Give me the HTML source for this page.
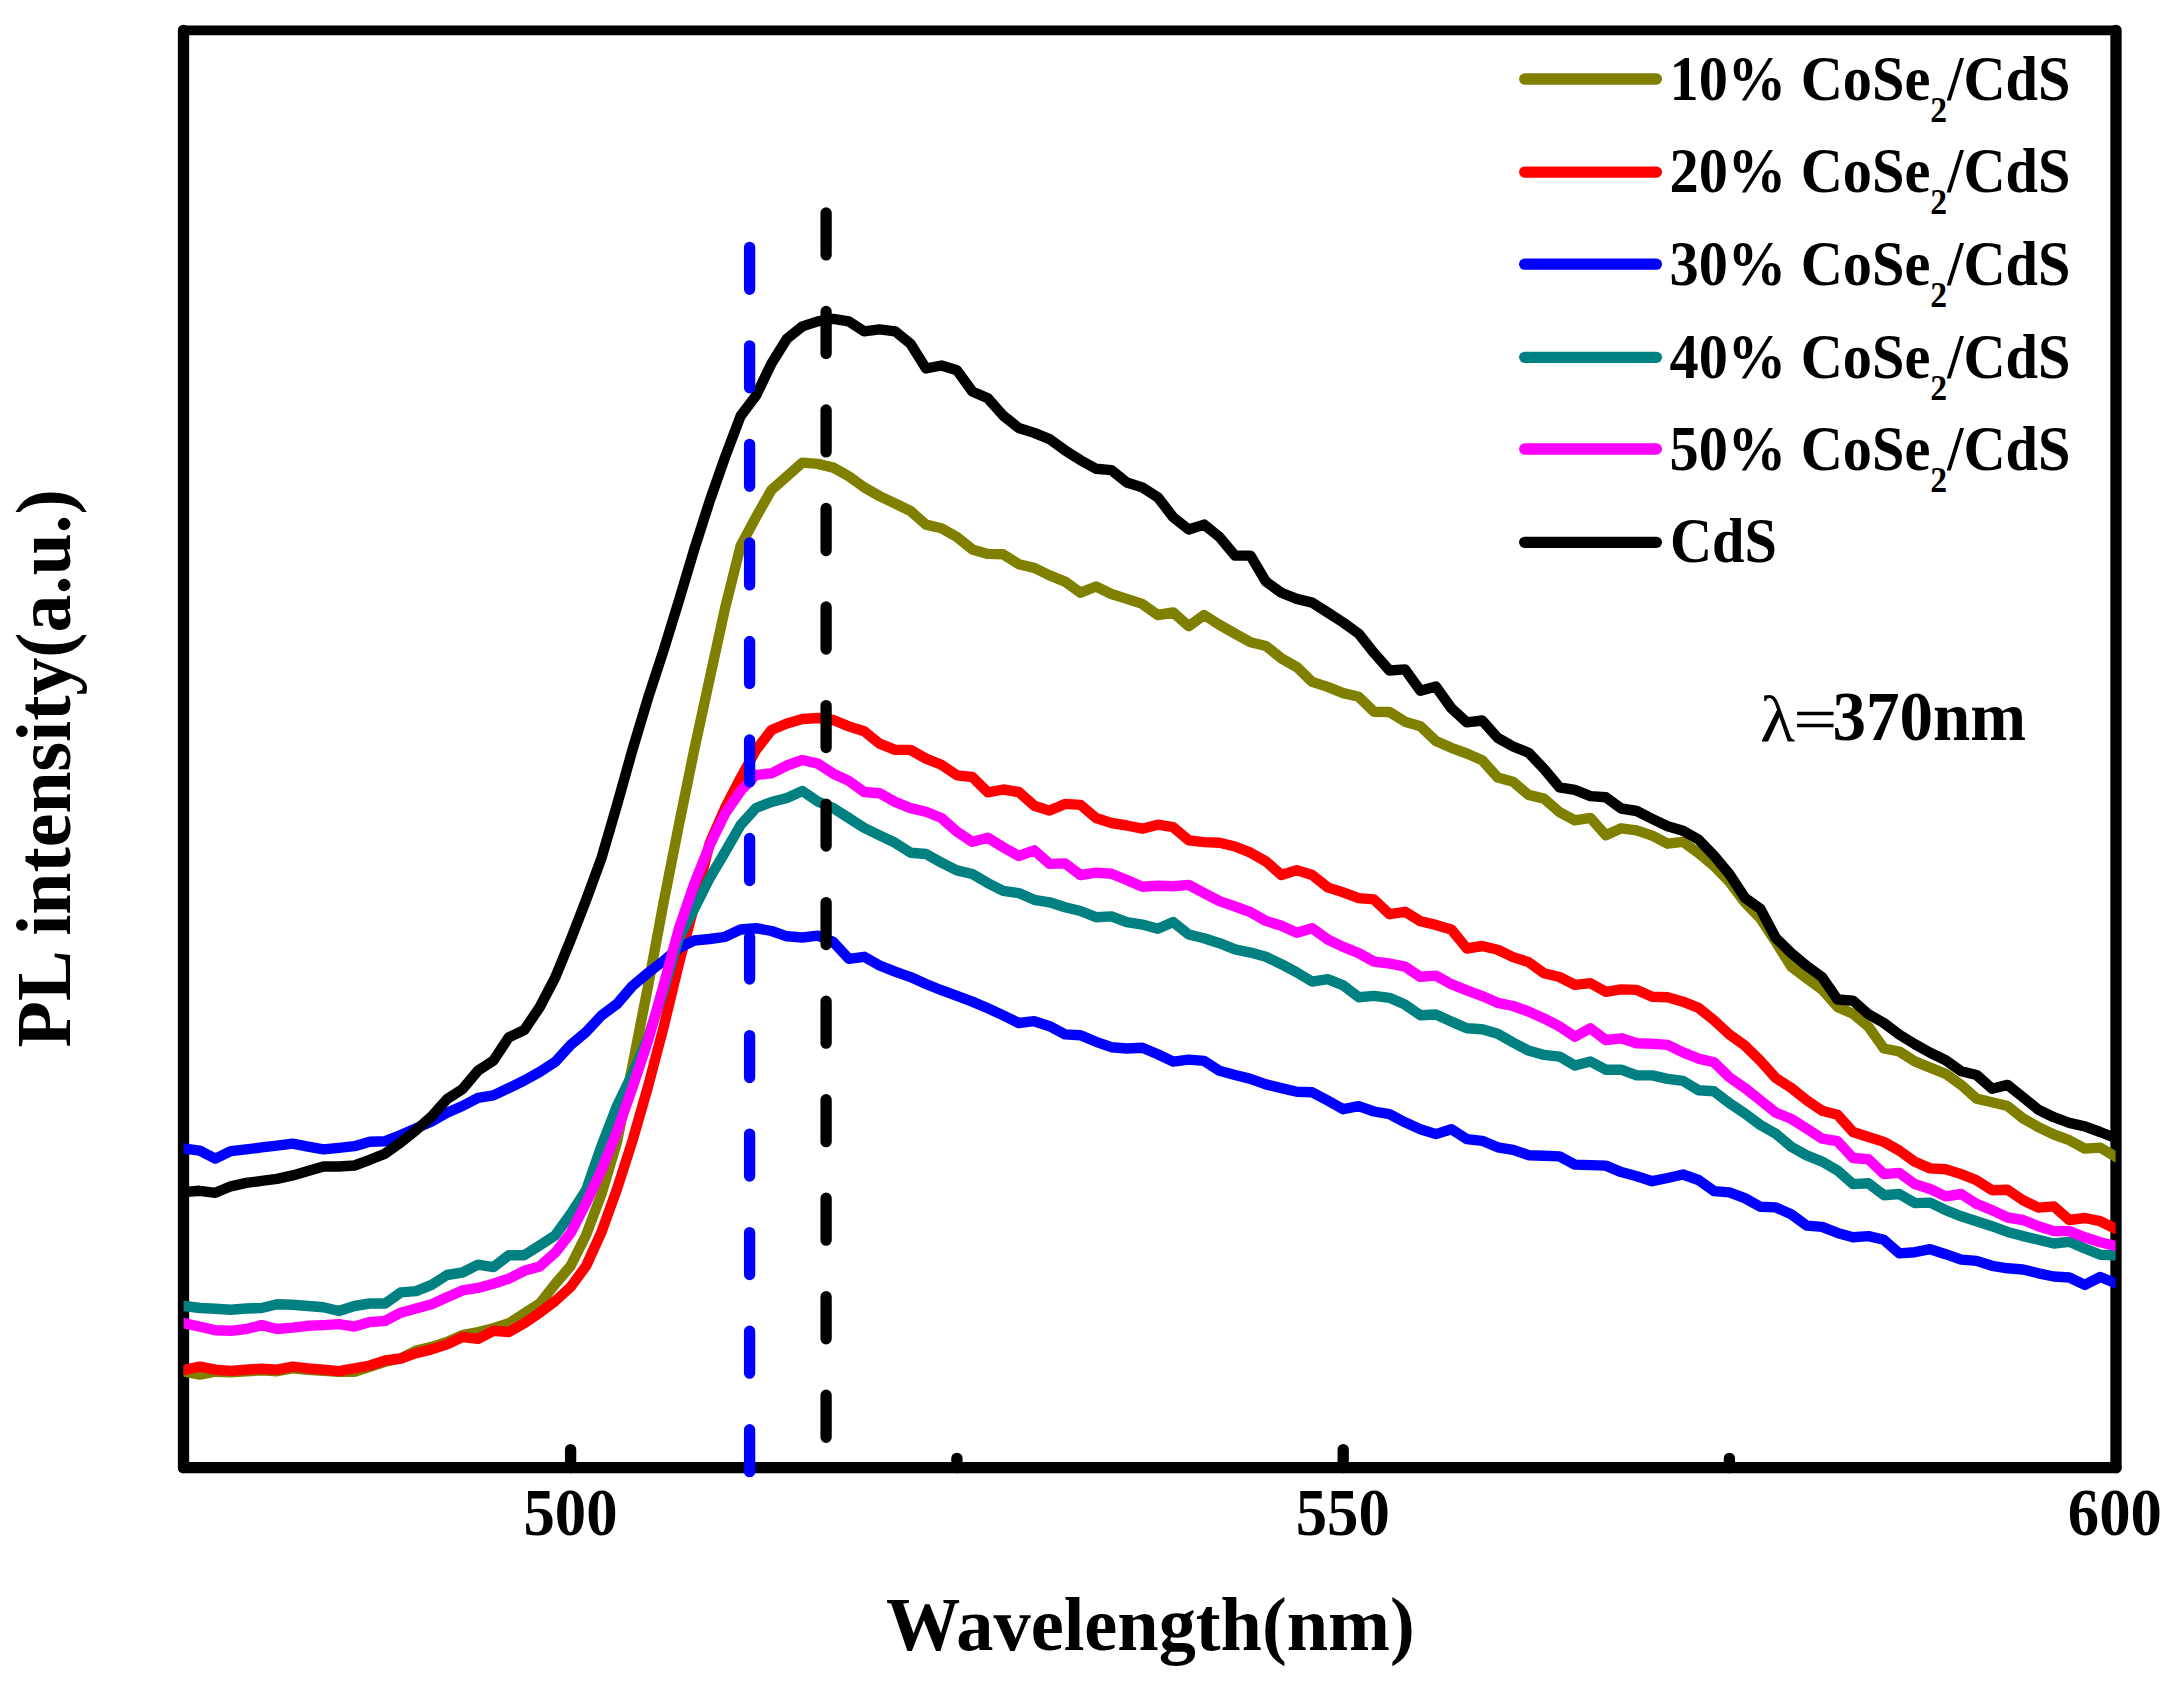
<!DOCTYPE html>
<html><head><meta charset="utf-8"><title>PL spectra</title>
<style>html,body{margin:0;padding:0;background:#fff}svg{display:block}text{font-family:"Liberation Serif","Times New Roman",serif;font-weight:bold;fill:#000}</style></head><body>
<svg width="2179" height="1695" viewBox="0 0 2179 1695">
<rect width="2179" height="1695" fill="#fff"/>
<defs><clipPath id="cc"><rect x="183.6" y="0" width="1932" height="1695"/></clipPath></defs>
<line x1="183.5" y1="30.3" x2="183.5" y2="1467.7" stroke="#000" stroke-width="11.3" stroke-linecap="round"/>
<line x1="2116.0" y1="30.3" x2="2116.0" y2="1467.7" stroke="#000" stroke-width="11.3" stroke-linecap="round"/>
<line x1="183.5" y1="30.3" x2="2116.0" y2="30.3" stroke="#000" stroke-width="9.8" stroke-linecap="round"/>
<line x1="183.5" y1="1467.7" x2="2116.0" y2="1467.7" stroke="#000" stroke-width="11.3" stroke-linecap="round"/>
<line x1="570.6" y1="1467.7" x2="570.6" y2="1449.6" stroke="#000" stroke-width="11.3" stroke-linecap="round"/>
<line x1="956.9" y1="1467.7" x2="956.9" y2="1458.3" stroke="#000" stroke-width="11.3" stroke-linecap="round"/>
<line x1="1343.2" y1="1467.7" x2="1343.2" y2="1449.6" stroke="#000" stroke-width="11.3" stroke-linecap="round"/>
<line x1="1729.4" y1="1467.7" x2="1729.4" y2="1458.3" stroke="#000" stroke-width="11.3" stroke-linecap="round"/>
<polyline points="178.4,1370.5 184.4,1371.7 199.8,1374.6 215.3,1371.7 230.8,1372.4 246.2,1371.2 261.6,1370.4 277.1,1371.2 292.6,1368.4 308.0,1369.7 323.4,1370.9 338.9,1371.7 354.4,1371.7 369.8,1366.7 385.2,1361.7 400.7,1358.5 416.1,1350.6 431.6,1346.9 447.0,1341.9 462.5,1335.0 478.0,1332.0 493.4,1328.3 508.9,1323.3 524.3,1313.4 539.8,1303.5 555.2,1284.0 570.6,1266.0 586.1,1235.0 601.5,1194.0 617.0,1142.0 632.4,1066.0 647.9,987.0 663.4,903.4 678.8,825.5 694.2,750.0 709.7,678.5 725.1,608.0 740.6,546.0 756.0,517.1 771.5,489.9 786.9,476.3 802.4,462.6 817.8,463.9 833.3,467.6 848.8,476.3 864.2,487.4 879.6,496.1 895.1,503.5 910.5,511.0 926.0,524.6 941.4,528.3 956.9,537.0 972.3,549.4 987.8,553.9 1003.2,554.3 1018.7,564.2 1034.2,567.9 1049.6,575.4 1065.0,581.6 1080.5,592.7 1096.0,586.5 1111.4,594.0 1126.8,598.9 1142.3,603.9 1157.8,615.0 1173.2,612.5 1188.7,626.2 1204.1,615.0 1219.5,624.9 1235.0,633.6 1250.5,642.3 1265.9,646.0 1281.4,658.4 1296.8,667.1 1312.2,681.9 1327.7,686.9 1343.2,693.1 1358.6,696.8 1374.0,711.8 1389.5,712.0 1405.0,721.7 1420.4,726.2 1435.9,741.1 1451.3,747.8 1466.8,753.5 1482.2,760.2 1497.7,777.5 1513.1,781.7 1528.5,794.9 1544.0,798.6 1559.5,812.2 1574.9,820.4 1590.4,817.9 1605.8,835.2 1621.2,828.3 1636.7,830.3 1652.2,835.7 1667.6,843.7 1683.0,841.9 1698.5,853.1 1714.0,866.0 1729.4,882.0 1744.8,902.5 1760.3,918.5 1775.8,942.0 1791.2,966.5 1806.7,978.3 1822.1,989.5 1837.5,1006.9 1853.0,1013.8 1868.5,1026.7 1883.9,1048.5 1899.3,1051.5 1914.8,1061.4 1930.2,1067.6 1945.7,1073.8 1961.2,1084.9 1976.6,1098.6 1992.0,1102.3 2007.5,1106.0 2023.0,1118.4 2038.4,1127.1 2053.8,1134.5 2069.3,1140.2 2084.8,1148.6 2100.2,1147.6 2115.7,1156.8 2121.7,1160.4" fill="none" stroke="#808000" stroke-width="10.4" stroke-linejoin="round" stroke-linecap="butt" clip-path="url(#cc)"/>
<polyline points="178.4,1371.2 184.4,1369.9 199.8,1366.7 215.3,1369.7 230.8,1370.9 246.2,1369.7 261.6,1368.7 277.1,1369.7 292.6,1366.7 308.0,1368.4 323.4,1369.7 338.9,1371.2 354.4,1368.4 369.8,1365.5 385.2,1360.5 400.7,1358.5 416.1,1353.1 431.6,1349.4 447.0,1344.4 462.5,1337.0 478.0,1338.9 493.4,1330.8 508.9,1332.0 524.3,1323.3 539.8,1312.7 555.2,1301.0 570.6,1287.0 586.1,1266.0 601.5,1232.0 617.0,1189.0 632.4,1141.0 647.9,1087.0 663.4,1028.0 678.8,964.0 694.2,906.0 709.7,843.0 725.1,808.0 740.6,778.0 756.0,750.0 771.5,730.0 786.9,723.5 802.4,719.0 817.8,718.0 833.3,720.0 848.8,726.4 864.2,731.3 879.6,743.7 895.1,749.9 910.5,749.9 926.0,758.6 941.4,764.8 956.9,775.3 972.3,777.0 987.8,792.3 1003.2,789.5 1018.7,792.0 1034.2,805.7 1049.6,810.6 1065.0,803.9 1080.5,804.9 1096.0,818.0 1111.4,823.0 1126.8,825.5 1142.3,828.7 1157.8,824.7 1173.2,827.2 1188.7,840.3 1204.1,842.1 1219.5,842.8 1235.0,846.5 1250.5,852.7 1265.9,861.4 1281.4,875.0 1296.8,870.1 1312.2,875.0 1327.7,887.4 1343.2,892.4 1358.6,898.1 1374.0,899.4 1389.5,914.2 1405.0,911.8 1420.4,921.2 1435.9,924.9 1451.3,929.4 1466.8,948.5 1482.2,946.0 1497.7,949.7 1513.1,957.1 1528.5,962.1 1544.0,973.3 1559.5,977.0 1574.9,984.9 1590.4,983.2 1605.8,991.8 1621.2,989.4 1636.7,989.9 1652.2,996.8 1667.6,997.3 1683.0,1001.7 1698.5,1007.9 1714.0,1020.3 1729.4,1034.5 1744.8,1045.5 1760.3,1060.8 1775.8,1078.0 1791.2,1087.9 1806.7,1100.3 1822.1,1110.8 1837.5,1114.7 1853.0,1132.0 1868.5,1137.0 1883.9,1141.9 1899.3,1150.6 1914.8,1161.8 1930.2,1168.4 1945.7,1169.2 1961.2,1174.1 1976.6,1180.3 1992.0,1190.2 2007.5,1189.8 2023.0,1200.2 2038.4,1207.6 2053.8,1206.4 2069.3,1220.0 2084.8,1218.0 2100.2,1221.2 2115.7,1228.7 2121.7,1231.5" fill="none" stroke="#ff0000" stroke-width="10.4" stroke-linejoin="round" stroke-linecap="butt" clip-path="url(#cc)"/>
<polyline points="178.4,1147.9 184.4,1148.7 199.8,1150.6 215.3,1158.6 230.8,1151.1 246.2,1149.4 261.6,1147.4 277.1,1145.7 292.6,1143.7 308.0,1146.7 323.4,1149.4 338.9,1147.9 354.4,1146.2 369.8,1141.7 385.2,1141.2 400.7,1135.0 416.1,1128.3 431.6,1121.4 447.0,1112.7 462.5,1106.0 478.0,1097.9 493.4,1095.4 508.9,1088.0 524.3,1080.5 539.8,1071.9 555.2,1061.9 570.6,1045.0 586.1,1032.0 601.5,1015.5 617.0,1004.0 632.4,986.0 647.9,973.0 663.4,961.0 678.8,948.0 694.2,940.5 709.7,939.0 725.1,936.8 740.6,929.5 756.0,928.2 771.5,931.0 786.9,936.3 802.4,937.5 817.8,935.7 833.3,941.9 848.8,958.8 864.2,956.8 879.6,965.5 895.1,971.7 910.5,977.1 926.0,984.0 941.4,990.2 956.9,995.8 972.3,1001.6 987.8,1008.2 1003.2,1015.4 1018.7,1023.0 1034.2,1021.2 1049.6,1026.2 1065.0,1034.4 1080.5,1035.3 1096.0,1041.8 1111.4,1047.2 1126.8,1048.5 1142.3,1047.7 1157.8,1054.2 1173.2,1061.6 1188.7,1059.6 1204.1,1060.9 1219.5,1070.8 1235.0,1075.0 1250.5,1078.9 1265.9,1084.4 1281.4,1088.1 1296.8,1091.8 1312.2,1092.3 1327.7,1100.5 1343.2,1109.2 1358.6,1106.2 1374.0,1111.5 1389.5,1114.2 1405.0,1122.3 1420.4,1129.2 1435.9,1134.1 1451.3,1129.2 1466.8,1139.1 1482.2,1140.8 1497.7,1147.3 1513.1,1149.8 1528.5,1155.2 1544.0,1155.7 1559.5,1156.4 1574.9,1164.6 1590.4,1165.1 1605.8,1165.6 1621.2,1172.1 1636.7,1176.3 1652.2,1181.2 1667.6,1178.0 1683.0,1174.5 1698.5,1180.0 1714.0,1191.1 1729.4,1192.4 1744.8,1198.1 1760.3,1206.8 1775.8,1207.4 1791.2,1214.2 1806.7,1225.6 1822.1,1226.9 1837.5,1232.9 1853.0,1237.3 1868.5,1236.1 1883.9,1239.8 1899.3,1253.4 1914.8,1252.2 1930.2,1249.2 1945.7,1254.2 1961.2,1259.6 1976.6,1260.9 1992.0,1265.8 2007.5,1268.3 2023.0,1269.5 2038.4,1273.3 2053.8,1276.5 2069.3,1277.5 2084.8,1284.9 2100.2,1277.0 2115.7,1283.2 2121.7,1285.6" fill="none" stroke="#0000ff" stroke-width="10.4" stroke-linejoin="round" stroke-linecap="butt" clip-path="url(#cc)"/>
<polyline points="178.4,1305.2 184.4,1306.0 199.8,1308.0 215.3,1308.7 230.8,1309.7 246.2,1308.5 261.6,1308.0 277.1,1304.3 292.6,1304.8 308.0,1306.0 323.4,1307.2 338.9,1311.0 354.4,1306.0 369.8,1303.5 385.2,1303.5 400.7,1292.4 416.1,1291.1 431.6,1284.9 447.0,1275.0 462.5,1272.5 478.0,1264.6 493.4,1267.1 508.9,1255.2 524.3,1255.2 539.8,1245.3 555.2,1235.4 570.6,1214.0 586.1,1190.0 601.5,1146.0 617.0,1106.0 632.4,1074.0 647.9,1038.0 663.4,991.0 678.8,938.0 694.2,909.0 709.7,878.0 725.1,852.0 740.6,825.0 756.0,808.0 771.5,802.0 786.9,798.0 802.4,791.0 817.8,801.5 833.3,808.1 848.8,818.0 864.2,827.9 879.6,835.4 895.1,842.8 910.5,852.7 926.0,854.0 941.4,862.6 956.9,870.4 972.3,874.0 987.8,883.1 1003.2,890.8 1018.7,893.1 1034.2,899.8 1049.6,902.3 1065.0,907.2 1080.5,911.0 1096.0,917.2 1111.4,916.4 1126.8,922.1 1142.3,924.6 1157.8,928.8 1173.2,922.1 1188.7,934.5 1204.1,938.2 1219.5,943.2 1235.0,949.4 1250.5,952.6 1265.9,956.8 1281.4,964.2 1296.8,972.4 1312.2,981.6 1327.7,979.1 1343.2,985.3 1358.6,997.2 1374.0,995.9 1389.5,997.8 1405.0,1004.6 1420.4,1015.2 1435.9,1014.5 1451.3,1021.4 1466.8,1028.3 1482.2,1029.3 1497.7,1033.8 1513.1,1042.5 1528.5,1050.6 1544.0,1054.9 1559.5,1056.6 1574.9,1065.5 1590.4,1061.5 1605.8,1069.7 1621.2,1069.7 1636.7,1075.4 1652.2,1075.4 1667.6,1078.9 1683.0,1080.9 1698.5,1090.3 1714.0,1091.3 1729.4,1103.2 1744.8,1113.3 1760.3,1125.0 1775.8,1133.7 1791.2,1146.7 1806.7,1155.4 1822.1,1161.6 1837.5,1170.4 1853.0,1184.1 1868.5,1183.3 1883.9,1195.2 1899.3,1194.0 1914.8,1203.1 1930.2,1202.6 1945.7,1210.1 1961.2,1216.3 1976.6,1221.2 1992.0,1226.2 2007.5,1231.9 2023.0,1236.1 2038.4,1239.8 2053.8,1243.5 2069.3,1241.8 2084.8,1248.5 2100.2,1254.7 2115.7,1255.2 2121.7,1255.4" fill="none" stroke="#008080" stroke-width="10.4" stroke-linejoin="round" stroke-linecap="butt" clip-path="url(#cc)"/>
<polyline points="178.4,1322.1 184.4,1323.3 199.8,1326.6 215.3,1330.3 230.8,1330.8 246.2,1329.0 261.6,1325.1 277.1,1329.0 292.6,1327.6 308.0,1325.8 323.4,1325.1 338.9,1324.1 354.4,1326.6 369.8,1322.1 385.2,1320.9 400.7,1312.7 416.1,1308.5 431.6,1304.3 447.0,1297.3 462.5,1290.4 478.0,1287.9 493.4,1283.7 508.9,1278.7 524.3,1270.8 539.8,1266.4 555.2,1252.7 570.6,1233.0 586.1,1203.0 601.5,1170.0 617.0,1131.5 632.4,1087.7 647.9,1041.0 663.4,986.0 678.8,929.0 694.2,884.0 709.7,845.3 725.1,813.5 740.6,791.0 756.0,775.0 771.5,773.3 786.9,765.5 802.4,760.0 817.8,763.6 833.3,773.7 848.8,780.9 864.2,792.0 879.6,793.3 895.1,801.9 910.5,808.1 926.0,811.8 941.4,818.0 956.9,831.7 972.3,841.8 987.8,837.7 1003.2,847.2 1018.7,856.0 1034.2,850.3 1049.6,863.9 1065.0,863.4 1080.5,875.0 1096.0,872.6 1111.4,873.8 1126.8,880.0 1142.3,886.7 1157.8,885.7 1173.2,886.2 1188.7,884.9 1204.1,893.1 1219.5,901.1 1235.0,906.5 1250.5,912.2 1265.9,920.9 1281.4,925.8 1296.8,932.8 1312.2,928.3 1327.7,939.5 1343.2,946.9 1358.6,953.1 1374.0,961.6 1389.5,963.5 1405.0,966.7 1420.4,976.8 1435.9,975.6 1451.3,984.2 1466.8,990.4 1482.2,996.1 1497.7,1002.8 1513.1,1006.0 1528.5,1011.5 1544.0,1018.4 1559.5,1026.4 1574.9,1036.8 1590.4,1028.3 1605.8,1040.0 1621.2,1038.3 1636.7,1043.2 1652.2,1043.7 1667.6,1044.9 1683.0,1052.4 1698.5,1058.6 1714.0,1062.3 1729.4,1077.2 1744.8,1087.9 1760.3,1100.3 1775.8,1112.6 1791.2,1118.8 1806.7,1128.7 1822.1,1138.7 1837.5,1141.2 1853.0,1158.0 1868.5,1159.3 1883.9,1174.1 1899.3,1172.9 1914.8,1184.1 1930.2,1189.0 1945.7,1196.4 1961.2,1194.0 1976.6,1203.9 1992.0,1210.1 2007.5,1217.5 2023.0,1220.0 2038.4,1226.2 2053.8,1231.1 2069.3,1231.1 2084.8,1237.3 2100.2,1242.3 2115.7,1246.0 2121.7,1247.4" fill="none" stroke="#ff00ff" stroke-width="10.4" stroke-linejoin="round" stroke-linecap="butt" clip-path="url(#cc)"/>
<polyline points="178.4,1192.5 184.4,1192.0 199.8,1190.8 215.3,1192.8 230.8,1186.3 246.2,1182.9 261.6,1180.9 277.1,1178.9 292.6,1175.4 308.0,1171.0 323.4,1166.5 338.9,1166.5 354.4,1165.5 369.8,1159.8 385.2,1153.6 400.7,1142.5 416.1,1130.1 431.6,1116.5 447.0,1099.1 462.5,1089.2 478.0,1070.6 493.4,1060.7 508.9,1037.2 524.3,1030.0 539.8,1007.0 555.2,977.5 570.6,940.0 586.1,900.0 601.5,858.0 617.0,805.0 632.4,750.0 647.9,698.4 663.4,651.0 678.8,601.0 694.2,549.5 709.7,501.0 725.1,457.0 740.6,416.0 756.0,395.7 771.5,363.5 786.9,338.8 802.4,326.4 817.8,321.4 833.3,318.9 848.8,321.4 864.2,331.3 879.6,329.3 895.1,331.3 910.5,343.7 926.0,368.5 941.4,365.5 956.9,370.3 972.3,391.4 987.8,398.2 1003.2,415.6 1018.7,428.0 1034.2,432.9 1049.6,439.1 1065.0,450.3 1080.5,460.2 1096.0,468.8 1111.4,470.1 1126.8,482.5 1142.3,487.4 1157.8,497.3 1173.2,517.2 1188.7,529.5 1204.1,524.6 1219.5,537.0 1235.0,555.6 1250.5,555.6 1265.9,581.6 1281.4,592.7 1296.8,598.9 1312.2,602.6 1327.7,612.5 1343.2,622.5 1358.6,633.6 1374.0,652.9 1389.5,670.5 1405.0,669.4 1420.4,690.8 1435.9,686.6 1451.3,708.1 1466.8,722.3 1482.2,720.5 1497.7,737.9 1513.1,746.5 1528.5,752.7 1544.0,768.8 1559.5,787.4 1574.9,789.9 1590.4,796.1 1605.8,797.3 1621.2,808.5 1636.7,811.0 1652.2,818.9 1667.6,826.3 1683.0,830.8 1698.5,839.5 1714.0,855.6 1729.4,874.1 1744.8,897.7 1760.3,908.8 1775.8,938.0 1791.2,952.9 1806.7,965.9 1822.1,977.1 1837.5,999.5 1853.0,1000.7 1868.5,1014.3 1883.9,1023.0 1899.3,1034.6 1914.8,1044.1 1930.2,1052.7 1945.7,1060.2 1961.2,1071.3 1976.6,1075.0 1992.0,1088.7 2007.5,1084.9 2023.0,1097.3 2038.4,1109.7 2053.8,1117.2 2069.3,1122.9 2084.8,1126.3 2100.2,1132.0 2115.7,1138.2 2121.7,1140.6" fill="none" stroke="#000000" stroke-width="10.4" stroke-linejoin="round" stroke-linecap="butt" clip-path="url(#cc)"/>
<line x1="749.6" y1="247.3" x2="749.6" y2="1471.7" stroke="#0000ff" stroke-width="11.3" stroke-linecap="round" stroke-dasharray="42 56.53"/>
<line x1="826.1" y1="212.9" x2="826.1" y2="1437.3" stroke="#000" stroke-width="11.3" stroke-linecap="round" stroke-dasharray="42 56.53"/>
<text id="t500" transform="translate(570.5,1535) scale(0.932,1)" font-size="67.3" text-anchor="middle">500</text>
<text id="t550" transform="translate(1342.7,1535) scale(0.932,1)" font-size="67.3" text-anchor="middle">550</text>
<text id="t600" transform="translate(2114.9,1535) scale(0.932,1)" font-size="67.3" text-anchor="middle">600</text>
<text id="xl" transform="translate(886,1650) scale(0.966,1)" font-size="77">Wavelength(nm)</text>
<text id="yl" transform="translate(69.6,1047.4) rotate(-90) scale(0.96,1)" font-size="79">PL intensity(a.u.)</text>
<line x1="1524.7" y1="79" x2="1656.4" y2="79" stroke="#808000" stroke-width="11.3" stroke-linecap="round"/>
<text id="lg0" transform="translate(1669.5,100.3) scale(0.935,1)" font-size="62.4">10% CoSe<tspan font-size="36" dy="22">2</tspan><tspan dy="-22">/CdS</tspan></text>
<line x1="1524.7" y1="172.1" x2="1656.4" y2="172.1" stroke="#ff0000" stroke-width="11.3" stroke-linecap="round"/>
<text id="lg1" transform="translate(1669.5,192.4) scale(0.935,1)" font-size="62.4">20% CoSe<tspan font-size="36" dy="22">2</tspan><tspan dy="-22">/CdS</tspan></text>
<line x1="1524.7" y1="264.2" x2="1656.4" y2="264.2" stroke="#0000ff" stroke-width="11.3" stroke-linecap="round"/>
<text id="lg2" transform="translate(1669.5,285.0) scale(0.935,1)" font-size="62.4">30% CoSe<tspan font-size="36" dy="22">2</tspan><tspan dy="-22">/CdS</tspan></text>
<line x1="1524.7" y1="357.3" x2="1656.4" y2="357.3" stroke="#008080" stroke-width="11.3" stroke-linecap="round"/>
<text id="lg3" transform="translate(1669.5,377.5) scale(0.935,1)" font-size="62.4">40% CoSe<tspan font-size="36" dy="22">2</tspan><tspan dy="-22">/CdS</tspan></text>
<line x1="1524.7" y1="449.0" x2="1656.4" y2="449.0" stroke="#ff00ff" stroke-width="11.3" stroke-linecap="round"/>
<text id="lg4" transform="translate(1669.5,469.8) scale(0.935,1)" font-size="62.4">50% CoSe<tspan font-size="36" dy="22">2</tspan><tspan dy="-22">/CdS</tspan></text>
<line x1="1524.7" y1="542.3" x2="1656.4" y2="542.3" stroke="#000000" stroke-width="11.3" stroke-linecap="round"/>
<text id="lg5" transform="translate(1670.0,562.3) scale(0.935,1)" font-size="62.4">CdS</text>
<text id="lam1" transform="translate(1760,741) scale(1.025,0.94)" font-size="70.5" style="font-weight:normal">λ</text>
<text id="lam2" transform="translate(1793.8,738.5) scale(1.085,0.85)" font-size="70.5" style="font-weight:normal" stroke="#000" stroke-width="0.7">=</text>
<text id="lam" transform="translate(1832.5,740) scale(0.951,1)" font-size="70.5">370nm</text>
</svg></body></html>
